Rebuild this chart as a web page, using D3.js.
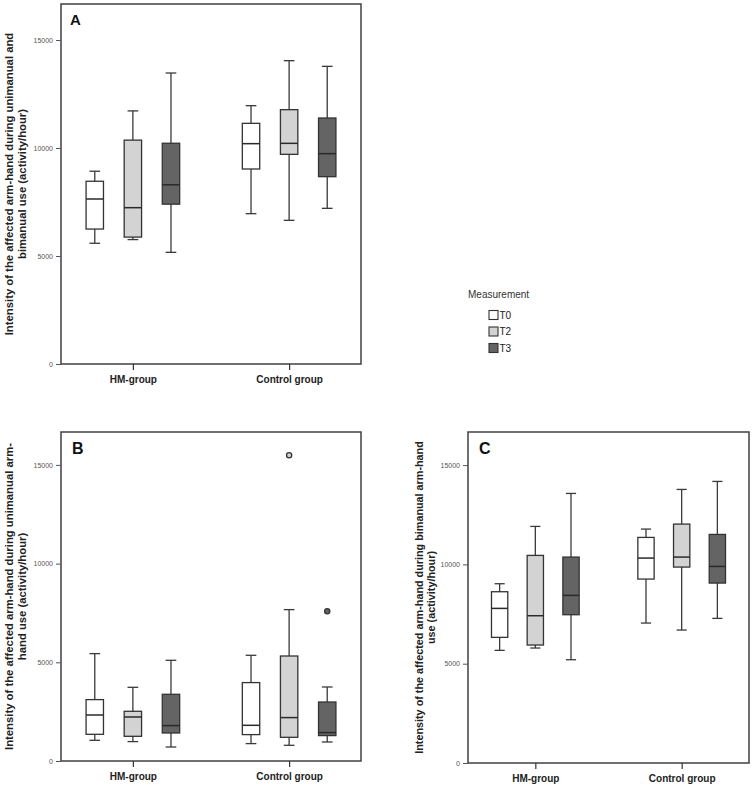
<!DOCTYPE html>
<html>
<head>
<meta charset="utf-8">
<script src="https://cdn.jsdelivr.net/npm/d3@7"></script>
<style>
  html, body { margin: 0; padding: 0; background: #ffffff; }
  svg { display: block; font-family: "Liberation Sans", Arial, sans-serif; }
</style>
</head>
<body>
<svg id="chart" width="754" height="785"></svg>
<script>
// ---------- DATA ----------
const categories = ["HM-group", "Control group"];
const measurements = ["T0", "T2", "T3"];
const yTickValues = [0, 5000, 10000, 15000];
const yMax = 16667;

// five-number summaries [lowWhisker, Q1, median, Q3, highWhisker]
// order: HM T0, HM T2, HM T3, Control T0, Control T2, Control T3
const statsA = [
  [5590, 6248, 7639, 8460, 8925],
  [5760, 5875, 7237, 10365, 11718],
  [5170, 7400, 8297, 10220, 13472],
  [6960, 9028, 10201, 11142, 11960],
  [6651, 9707, 10216, 11775, 14043],
  [7207, 8673, 9738, 11389, 13781]
];
const statsB = [
  [1049, 1352, 2330, 3110, 5440],
  [983, 1251, 2230, 2518, 3733],
  [709, 1419, 1793, 3379, 5101],
  [881, 1337, 1808, 3972, 5355],
  [795, 1200, 2199, 5319, 7669],
  [963, 1287, 1439, 2989, 3749]
];
const statsC = [
  [5671, 6326, 7785, 8624, 9027],
  [5789, 5940, 7416, 10453, 11913],
  [5201, 7466, 8440, 10369, 13574],
  [7047, 9262, 10319, 11359, 11779],
  [6695, 9866, 10369, 12030, 13775],
  [7282, 9060, 9899, 11510, 14178]
];
const outliersB = [
  { group: "Control group", measurement: "T2", value: 15490 },
  { group: "Control group", measurement: "T3", value: 7584 }
];

// ---------- STYLE / LAYOUT ----------
const fills = { T0: "#ffffff", T2: "#d3d3d3", T3: "#646464" };
const panels = [
  { letter: "A", x0: 61, x1: 361, y0: 4, y1: 364, stats: statsA, outliers: [],
    label: ["Intensity of the affected arm-hand during unimanual and", "bimanual use (activity/hour)"],
    labelX: [8.5, 21.5], labelSize: 11.3, letterSize: 15, letterDx: 9, letterDy: 21 },
  { letter: "B", x0: 61, x1: 361, y0: 432, y1: 761, stats: statsB, outliers: outliersB,
    label: ["Intensity of the affected arm-hand during unimanual arm-", "hand use (activity/hour)"],
    labelX: [8.5, 21.5], labelSize: 11.3, letterSize: 16, letterDx: 11, letterDy: 21.5 },
  { letter: "C", x0: 468, x1: 749, y0: 432, y1: 763, stats: statsC, outliers: [],
    label: ["Intensity of the affected arm-hand during bimanual arm-hand", "use (activity/hour)"],
    labelX: [419, 430.5], labelSize: 10.8, letterSize: 16, letterDx: 11, letterDy: 22 }
];

const svg = d3.select("#chart");

panels.forEach(p => {
  const g = svg.append("g");
  const W = p.x1 - p.x0;
  const y = d3.scaleLinear().domain([0, yMax]).range([p.y1, p.y0]);
  const x = d3.scalePoint().domain(categories).range([p.x0, p.x1]).padding(0.46);
  const xi = d3.scalePoint().domain(measurements).range([-0.127 * W, 0.127 * W]);
  const bw = 0.058 * W;
  const capW = 0.029 * W;

  // frame
  g.append("rect")
    .attr("x", p.x0).attr("y", p.y0)
    .attr("width", W).attr("height", p.y1 - p.y0)
    .attr("fill", "none").attr("stroke", "#404040").attr("stroke-width", 1.5);

  // y axis
  const yAxis = d3.axisLeft(y).tickValues(yTickValues).tickSize(5).tickPadding(3)
    .tickFormat(d3.format("d"));
  const ya = g.append("g").attr("transform", `translate(${p.x0},0)`).call(yAxis);
  ya.select(".domain").remove();
  ya.selectAll(".tick line").attr("stroke", "#555").attr("stroke-width", 1);
  ya.selectAll(".tick text").attr("fill", "#555").attr("font-size", 7)
    .attr("font-family", "Liberation Sans, Arial, sans-serif");

  // x axis
  const xAxis = d3.axisBottom(x).tickSize(6).tickPadding(6);
  const xa = g.append("g").attr("transform", `translate(0,${p.y1})`).call(xAxis);
  xa.select(".domain").remove();
  xa.selectAll(".tick line").attr("stroke", "#333").attr("stroke-width", 1.2);
  xa.selectAll(".tick text").attr("fill", "#222").attr("font-size", 10)
    .attr("font-weight", "bold")
    .attr("font-family", "Liberation Sans, Arial, sans-serif");

  // boxes
  const items = [];
  categories.forEach((c, ci) => measurements.forEach((m, mi) => {
    items.push({ c, m, s: p.stats[ci * 3 + mi] });
  }));
  const bg = g.selectAll(".bx").data(items).enter().append("g")
    .attr("transform", d => `translate(${x(d.c) + xi(d.m)},0)`);
  // whisker line
  bg.append("line").attr("x1", 0).attr("x2", 0)
    .attr("y1", d => y(d.s[0])).attr("y2", d => y(d.s[4]))
    .attr("stroke", "#3a3a3a").attr("stroke-width", 1.3);
  // caps
  ["0", "4"].forEach(k => {
    bg.append("line").attr("x1", -capW / 2 - 1).attr("x2", capW / 2 + 1)
      .attr("y1", d => y(d.s[+k])).attr("y2", d => y(d.s[+k]))
      .attr("stroke", "#3a3a3a").attr("stroke-width", 1.3);
  });
  // box
  bg.append("rect").attr("x", -bw / 2).attr("width", bw)
    .attr("y", d => y(d.s[3])).attr("height", d => y(d.s[1]) - y(d.s[3]))
    .attr("fill", d => fills[d.m]).attr("stroke", "#333").attr("stroke-width", 1.3);
  // median
  bg.append("line").attr("x1", -bw / 2).attr("x2", bw / 2)
    .attr("y1", d => y(d.s[2])).attr("y2", d => y(d.s[2]))
    .attr("stroke", "#2a2a2a").attr("stroke-width", 1.5);

  // outliers
  g.selectAll(".out").data(p.outliers).enter().append("circle")
    .attr("cx", d => x(d.group) + xi(d.measurement))
    .attr("cy", d => y(d.value))
    .attr("r", 2.6)
    .attr("fill", d => fills[d.measurement])
    .attr("stroke", "#333").attr("stroke-width", 1.3);

  // panel letter
  g.append("text").attr("x", p.x0 + p.letterDx).attr("y", p.y0 + p.letterDy)
    .attr("font-size", p.letterSize).attr("font-weight", "bold").attr("fill", "#111")
    .text(p.letter);

  // y label
  const cy = (p.y0 + p.y1) / 2;
  p.label.forEach((t, i) => {
    g.append("text")
      .attr("transform", `translate(${p.labelX[i]},${cy}) rotate(-90)`)
      .attr("text-anchor", "middle").attr("dominant-baseline", "central")
      .attr("font-size", p.labelSize).attr("font-weight", "bold").attr("fill", "#222")
      .text(t);
  });
});

// legend
const lg = svg.append("g");
lg.append("text").attr("x", 468).attr("y", 297.5)
  .attr("font-size", 10).attr("fill", "#333").text("Measurement");
const ly = d3.scalePoint().domain(measurements).range([315, 348]);
const li = lg.selectAll(".li").data(measurements).enter().append("g")
  .attr("transform", d => `translate(489,${ly(d)})`);
li.append("rect").attr("x", 0).attr("y", -4.5).attr("width", 9).attr("height", 9)
  .attr("fill", d => fills[d]).attr("stroke", "#333").attr("stroke-width", 1.1);
li.append("text").attr("x", 10.5).attr("y", 0).attr("dominant-baseline", "central")
  .attr("font-size", 10).attr("fill", "#222").text(d => d);
</script>
</body>
</html>
